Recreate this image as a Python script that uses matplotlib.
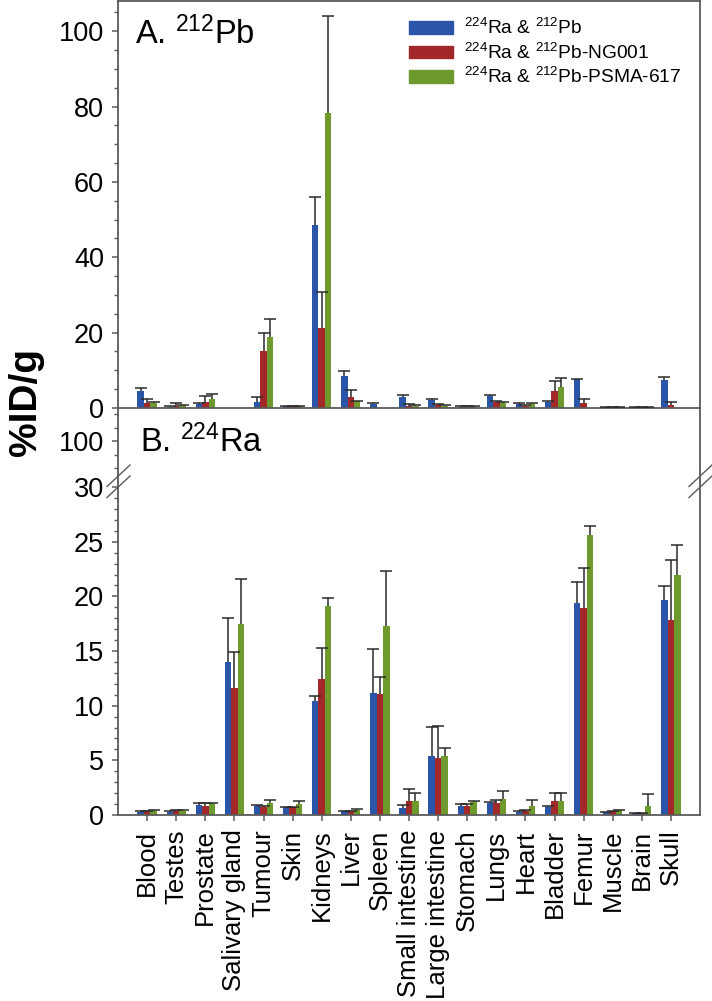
import numpy as np
import matplotlib
matplotlib.use("Agg")
from matplotlib import pyplot as plt
from matplotlib.patches import Patch

plt.rcParams['font.family'] = ['Liberation Sans', 'DejaVu Sans']
plt.rcParams['mathtext.fontset'] = 'custom'
plt.rcParams['mathtext.rm'] = 'Liberation Sans'
plt.rcParams['mathtext.it'] = 'Liberation Sans:italic'
plt.rcParams['mathtext.bf'] = 'Liberation Sans:bold'

organs = ['Blood', 'Testes', 'Prostate', 'Salivary gland', 'Tumour', 'Skin', 'Kidneys',
          'Liver', 'Spleen', 'Small intestine', 'Large intestine', 'Stomach', 'Lungs',
          'Heart', 'Bladder', 'Femur', 'Muscle', 'Brain', 'Skull']
nan = np.nan

# Panel A: 212Pb
pb_free = [4.46, 0.3, 1.0, nan, 1.72, 0.55, 48.5, 8.6, 0.93, 3.05, 2.17, 0.3, 3.2, 1.0, 1.72, 7.65, 0.15, 0.15, 7.3]
pb_free_err = [0.8, 0.1, 0.37, nan, 1.15, 0.1, 7.5, 1.35, 0.44, 0.35, 0.2, 0.1, 0.3, 0.3, 0.2, 0.15, 0.05, 0.05, 0.9]
pb_ng = [1.37, 0.58, 1.64, nan, 15.0, 0.55, 21.3, 3.05, nan, 0.58, 0.7, 0.3, 1.55, 0.55, 4.64, 1.3, 0.15, 0.15, 0.85]
pb_ng_err = [0.9, 0.7, 1.55, nan, 4.9, 0.1, 9.6, 1.6, nan, 0.42, 0.3, 0.1, 0.25, 0.3, 2.6, 1.2, 0.05, 0.05, 0.7]
pb_psma = [1.37, 0.75, 2.5, nan, 18.8, 0.55, 78.3, 1.8, nan, 0.58, 0.5, 0.3, 1.3, 1.0, 5.5, nan, 0.15, 0.15, nan]
pb_psma_err = [0.2, 0.1, 1.25, nan, 4.7, 0.1, 25.7, 0.1, nan, 0.22, 0.2, 0.1, 0.3, 0.2, 2.4, nan, 0.05, 0.05, nan]

# Panel B: 224Ra
ra_free = [0.3, 0.25, 0.9, 14.0, 0.8, 0.7, 10.4, 0.35, 11.2, 0.67, 5.43, 0.82, 1.13, 0.3, 0.73, 19.4, 0.25, 0.15, 19.7]
ra_free_err = [0.1, 0.15, 0.17, 4.05, 0.1, 0.05, 0.5, 0.05, 4.0, 0.2, 2.6, 0.16, 0.05, 0.07, 0.07, 1.95, 0.05, 0.05, 1.25]
ra_ng = [0.35, 0.35, 0.8, 11.6, 0.7, 0.7, 12.4, 0.35, 11.1, 1.3, 5.25, 0.82, 1.07, 0.4, 1.3, 18.9, 0.35, 0.15, 17.8]
ra_ng_err = [0.05, 0.1, 0.3, 3.35, 0.1, 0.05, 2.9, 0.05, 1.5, 1.05, 2.9, 0.15, 0.3, 0.05, 0.75, 3.7, 0.05, 0.05, 5.5]
ra_psma = [0.4, 0.35, 1.05, 17.5, 1.1, 1.05, 19.1, 0.5, 17.3, 1.28, 5.37, 1.22, 1.46, 0.8, 1.28, 25.6, 0.45, 0.85, 22.0]
ra_psma_err = [0.05, 0.1, 0.05, 4.05, 0.25, 0.25, 0.8, 0.05, 5.0, 0.76, 0.73, 0.1, 0.75, 0.6, 0.76, 0.8, 0.05, 1.1, 2.7]

labels = ['$\\mathregular{^{224}}$Ra & $\\mathregular{^{212}}$Pb',
          '$\\mathregular{^{224}}$Ra & $\\mathregular{^{212}}$Pb-NG001',
          '$\\mathregular{^{224}}$Ra & $\\mathregular{^{212}}$Pb-PSMA-617']
colors = ['#2b55a8', '#a3282a', '#6e9a2d']
spine_c = '#5a5a5a'
W, H = 712, 1001
x = np.arange(len(organs))
bw = 0.22


def rect(left, top, right, bottom):
    return [left / W, (H - bottom) / H, (right - left) / W, (bottom - top) / H]


def draw_bars(ax, series):
    for i, (vals, errs) in enumerate(series):
        vals = np.array(vals, dtype=float)
        errs = np.array(errs, dtype=float)
        xs = x + (i - 1) * bw
        ax.bar(xs, vals, bw, color=colors[i], linewidth=0, zorder=2)
        eb = ax.errorbar(xs, vals, yerr=[np.zeros_like(errs), errs], fmt='none',
                         ecolor='#2a2a2a', elinewidth=1.1, capsize=4.2, capthick=1.1, zorder=3)
        eb[1][0].set_visible(False)


def style(ax):
    for s in ax.spines.values():
        s.set_color(spine_c)
        s.set_linewidth(1.3)
    ax.tick_params(axis='y', which='major', direction='out', length=4.5, width=1.1,
                   color=spine_c, labelsize=19.5, pad=5.5)
    ax.tick_params(axis='y', which='minor', direction='out', length=2.6, width=1.0, color=spine_c)
    ax.set_xlim(-1, len(organs))


fig = plt.figure(figsize=(W / 100, H / 100), dpi=100)

axA = fig.add_axes(rect(118, 1, 700, 408))
draw_bars(axA, [(pb_free, pb_free_err), (pb_ng, pb_ng_err), (pb_psma, pb_psma_err)])
style(axA)
axA.set_ylim(0, 108)
axA.set_yticks([0, 20, 40, 60, 80, 100])
axA.set_yticks(np.arange(5, 108, 5), minor=True)
axA.set_xticks([])
axA.text(0.029, 0.894, 'A. $\\mathregular{^{212}}$Pb', transform=axA.transAxes, fontsize=23.5)
axA.legend([Patch(color=c) for c in colors], labels, loc='upper right',
           bbox_to_anchor=(0.997, 1.0), frameon=False, fontsize=13.8,
           handlelength=2.3, handleheight=0.63, handletextpad=0.57, labelspacing=0.22)

axHi = fig.add_axes(rect(118, 408, 700, 482))
style(axHi)
axHi.set_ylim(85.0, 112.4)
axHi.set_yticks([100])
axHi.set_yticks([90, 95, 105, 110], minor=True)
axHi.set_xticks([])
axHi.spines['top'].set_visible(False)
axHi.spines['bottom'].set_visible(False)
axHi.patch.set_alpha(0)

axB = fig.add_axes(rect(118, 482, 700, 815))
draw_bars(axB, [(ra_free, ra_free_err), (ra_ng, ra_ng_err), (ra_psma, ra_psma_err)])
style(axB)
axB.set_ylim(0, 30.47)
axB.set_yticks(np.arange(0, 31, 5))
axB.set_yticks(np.arange(1, 31, 1), minor=True)
axB.spines['top'].set_visible(False)
axB.set_xticks(x)
axB.set_xticklabels(organs, rotation=90, fontsize=18.5)
axB.tick_params(axis='x', direction='out', length=4.5, width=1.1, color=spine_c, pad=6)

fig.text(140 / W, 1 - 452 / H, 'B. $\\mathregular{^{224}}$Ra', fontsize=23.5, va='baseline')

# axis break marks
for xc in (118, 700):
    for yc in (476, 487):
        fig.add_artist(plt.Line2D([(xc - 11) / W, (xc + 12) / W],
                                  [1 - (yc + 10.5) / H, 1 - (yc - 11) / H],
                                  color=spine_c, lw=1.0))

fig.text(26 / W, 1 - 402 / H, '%ID/g', rotation=90, fontsize=28, fontweight='bold',
         ha='center', va='center')

fig.savefig('out.png', dpi=100)
